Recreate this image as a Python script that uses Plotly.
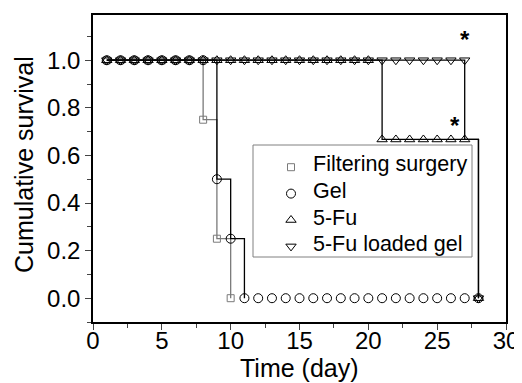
import plotly.graph_objects as go

# ---- data ----
days = list(range(1, 29))
fs_days = list(range(1, 11))
fs_surv = [1, 1, 1, 1, 1, 1, 1, 0.75, 0.25, 0]
gel_surv = [1] * 8 + [0.5, 0.25] + [0] * 18
fu_surv = [1] * 20 + [0.667] * 7 + [0]
lg_surv = [1] * 27 + [0]
# step path of the 5-Fu loaded gel curve (drops at day 27 onto 5-Fu level)
lg_line_days = list(range(1, 28)) + [27, 28]
lg_line_surv = [1] * 27 + [0.667, 0]
star_x = [27, 26.3]
star_y = [1.085, 0.725]

names = ["Filtering surgery", "Gel", "5-Fu", "5-Fu loaded gel"]
FONT = "Liberation Sans, Arial, sans-serif"
GRAY = "#7a7a7a"

OFF = 8  # page body margin offsets the figure in the browser
L, R, T, B = 93 - OFF, 506 - OFF, 15 - OFF, 322 - OFF
W, H = R - L, B - T


def px_x(p):
    return (p - OFF - L) / W


def px_y(p):
    return (B - (p - OFF)) / H


def until_zero(x, y):
    k = y.index(0) + 1
    return x[:k], y[:k]


fig = go.Figure()

line_sets = [
    until_zero(fs_days, fs_surv) + (GRAY,),
    until_zero(days, gel_surv) + ("black",),
    until_zero(days, fu_surv) + ("black",),
    (lg_line_days, lg_line_surv, "black"),
]
for lx, ly, col in line_sets:
    fig.add_trace(go.Scatter(x=lx, y=ly, mode="lines", line=dict(color=col, width=1.3, shape="hv"),
                             showlegend=False, hoverinfo="skip"))

marker_sets = [
    (fs_days, fs_surv, "square-open", 7, GRAY),
    (days, gel_surv, "circle-open", 9, "black"),
    (days, fu_surv, "triangle-up-open", 9, "black"),
    (days, lg_surv, "triangle-down-open", 9, "black"),
]
for (mx, my, sym, sz, col), nm in zip(marker_sets, names):
    fig.add_trace(go.Scatter(x=mx, y=my, mode="markers", name="\u00a0",
                             marker=dict(symbol=sym, size=sz, color=col, line=dict(color=col, width=1))))

for sx, sy in zip(star_x, star_y):
    fig.add_annotation(x=sx, y=sy, text="<b>*</b>", showarrow=False, font=dict(family=FONT, size=24, color="black"))

# legend frame
fig.add_shape(type="rect", xref="paper", yref="paper",
              x0=px_x(253), x1=px_x(472), y0=px_y(257), y1=px_y(145),
              fillcolor="white", line=dict(color="#808080", width=1), layer="above")

# legend texts
row_y = [164, 191, 217.5, 244]
for nm, ry in zip(names, row_y):
    fig.add_annotation(xref="paper", yref="paper", x=px_x(311), y=px_y(ry), xanchor="left", yanchor="middle",
                       text=nm, showarrow=False, font=dict(family=FONT, size=21.5, color="black"))

# axis titles
fig.add_annotation(xref="paper", yref="paper", x=px_x(299.5), y=px_y(368), xanchor="center", yanchor="middle",
                   text="Time (day)", showarrow=False, font=dict(family=FONT, size=25, color="black"))
fig.add_annotation(xref="paper", yref="paper", x=px_x(24), y=px_y(165), xanchor="center", yanchor="middle",
                   text="Cumulative survival", textangle=-90, showarrow=False,
                   font=dict(family=FONT, size=25, color="black"))

fig.update_layout(
    width=522, height=383,
    margin=dict(l=L, r=522 - R, t=T, b=383 - B),
    paper_bgcolor="white", plot_bgcolor="white",
    font=dict(family=FONT, color="black"),
    showlegend=True,
    legend=dict(x=px_x(271), y=px_y(149), xanchor="left", yanchor="top",
                bgcolor="rgba(0,0,0,0)", borderwidth=0, font=dict(size=18, family=FONT),
                itemsizing="trace"),
    xaxis=dict(range=[0, 30], tickvals=[0, 5, 10, 15, 20, 25, 30], ticks="outside", ticklen=6, tickwidth=1.3,
               minor=dict(dtick=2.5, ticks="outside", ticklen=4, tickwidth=1.3, tick0=0),
               showline=True, linecolor="black", linewidth=1.5, mirror=True, showgrid=False, zeroline=False,
               automargin=False, ticklabelstandoff=-10,
               tickfont=dict(size=24, family=FONT)),
    yaxis=dict(range=[-0.1, 1.19], tickvals=[0, 0.2, 0.4, 0.6, 0.8, 1.0], tickformat=".1f", ticks="outside", ticklen=6, tickwidth=1.3,
               minor=dict(dtick=0.1, tick0=0, ticks="outside", ticklen=4, tickwidth=1.3),
               showline=True, linecolor="black", linewidth=1.5, mirror=True, showgrid=False, zeroline=False,
               automargin=False,
               tickfont=dict(size=24, family=FONT)),
)

fig.write_html("out.html")
